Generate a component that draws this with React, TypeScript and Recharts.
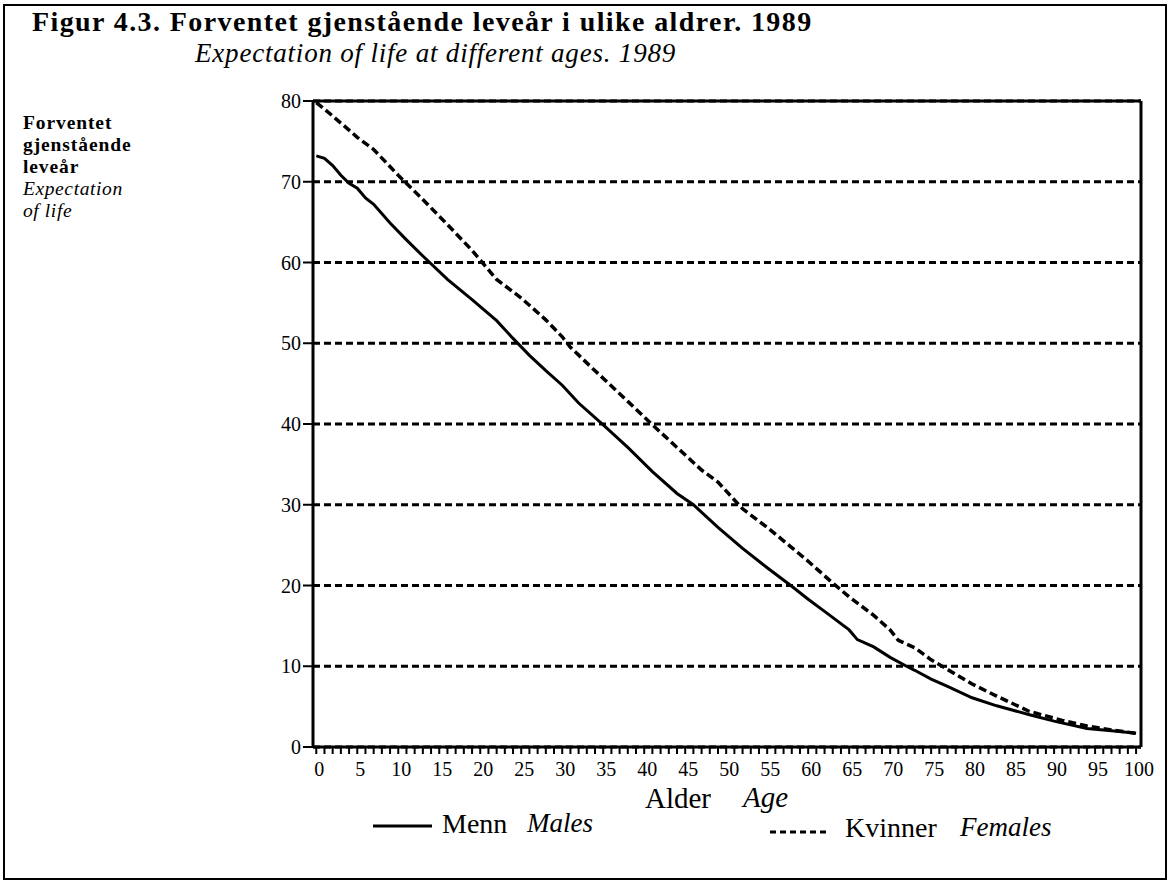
import { LineChart, Line, XAxis, YAxis, CartesianGrid, ReferenceLine } from 'recharts'

// (Figur 4.3, 1989)
const maleAges = [0, 1, 2, 3, 4, 5, 6, 7, 9, 11, 13, 16, 19, 22, 24, 26, 28, 30, 32, 35, 38, 41, 44, 46, 49, 52, 55, 58, 60, 62, 65, 66, 68, 70, 72, 73, 75, 77, 80, 83, 87, 90, 94, 97, 100]
const maleValues = [73.2, 72.9, 72.0, 70.8, 69.8, 69.2, 68.0, 67.2, 64.9, 62.8, 60.8, 57.9, 55.4, 52.8, 50.6, 48.5, 46.6, 44.8, 42.6, 39.9, 37.1, 34.1, 31.4, 30.0, 27.2, 24.6, 22.2, 19.9, 18.3, 16.8, 14.5, 13.3, 12.4, 11.1, 10.0, 9.5, 8.4, 7.5, 6.1, 5.1, 4.0, 3.2, 2.3, 2.0, 1.7]

const femaleAges = [0, 1, 4, 5, 7, 10, 13, 16, 19, 20, 22, 25, 28, 30, 31, 34, 38, 41, 44, 47, 49, 52, 55, 58, 60, 63, 65, 68, 70, 71, 73, 75, 77, 80, 83, 87, 91, 94, 97, 100]
const femaleValues = [79.8, 79.0, 76.4, 75.5, 74.0, 70.8, 67.8, 64.7, 61.5, 60.3, 57.9, 55.6, 52.9, 50.8, 49.5, 46.6, 42.8, 39.9, 37.1, 34.3, 32.8, 29.5, 27.2, 24.7, 23.0, 20.3, 18.6, 16.3, 14.5, 13.2, 12.3, 10.8, 9.6, 7.8, 6.3, 4.4, 3.3, 2.6, 2.1, 1.7]

const yTicks = [0, 10, 20, 30, 40, 50, 60, 70, 80]
const xTicks = Array.from({ length: 101 }, (_, i) => i) // one tick mark per year

const maleData = maleAges.map((age, i) => ({ age, value: maleValues[i] }))
const femaleData = femaleAges.map((age, i) => ({ age, value: femaleValues[i] }))

const SERIF = '"Liberation Serif", "Times New Roman", serif'

const txt = (left: number, top: number, size: number, extra: React.CSSProperties = {}): React.CSSProperties => ({
  position: 'absolute', left, top, fontSize: size, lineHeight: `${size}px`,
  fontFamily: SERIF, color: '#000', whiteSpace: 'nowrap', ...extra,
})

export default function App() {
  return (
    <div style={{ position: 'absolute', left: 0, top: 0, width: 1169, height: 880, background: '#fff', overflow: 'hidden' }}>
      {/* outer frame */}
      <div style={{ position: 'absolute', left: 3, top: 4, width: 1160, height: 872, border: '2px solid #000' }} />

      <LineChart
        width={1169}
        height={880}
        margin={{ top: 101, right: 28, bottom: 93, left: 0 }}
        style={{ position: 'absolute', left: 0, top: 0 }}
      >
        <CartesianGrid vertical={false} stroke="#000" strokeWidth={3} strokeDasharray="7 4" />
        <XAxis
          type="number"
          dataKey="age"
          domain={[-0.4, 100.6]}
          ticks={xTicks}
          interval={0}
          height={40}
          tickFormatter={(v: number) => (v % 5 === 0 ? String(v) : '')}
          tickSize={7}
          tickMargin={8}
          axisLine={{ stroke: '#000', strokeWidth: 3 }}
          tickLine={{ stroke: '#000', strokeWidth: 2 }}
          tick={{ fill: '#000', fontSize: 20, fontFamily: SERIF, dx: 3 }}
        />
        <YAxis
          type="number"
          domain={[0, 80]}
          ticks={yTicks}
          width={313}
          tickSize={10}
          tickMargin={2}
          axisLine={{ stroke: '#000', strokeWidth: 3 }}
          tickLine={{ stroke: '#000', strokeWidth: 2 }}
          tick={{ fill: '#000', fontSize: 20, fontFamily: SERIF }}
        />
        <ReferenceLine y={80} stroke="#000" strokeWidth={3} />
        <ReferenceLine x={100.6} stroke="#000" strokeWidth={3} />
        <Line
          data={femaleData}
          dataKey="value"
          type="linear"
          stroke="#000"
          strokeWidth={3.5}
          strokeDasharray="8 4"
          dot={false}
          isAnimationActive={false}
        />
        <Line
          data={maleData}
          dataKey="value"
          type="linear"
          stroke="#000"
          strokeWidth={3}
          dot={false}
          isAnimationActive={false}
        />
      </LineChart>

      {/* titles */}
      <div style={txt(32, 8, 28, { fontWeight: 'bold', letterSpacing: 1.4 })}>Figur 4.3. Forventet gjenstående leveår i ulike aldrer. 1989</div>
      <div style={txt(195, 40, 27, { fontStyle: 'italic', letterSpacing: 0.8 })}>Expectation of life at different ages. 1989</div>

      {/* y axis caption */}
      <div style={txt(23, 113, 19.5, { fontWeight: 'bold', letterSpacing: 0.9 })}>Forventet</div>
      <div style={txt(23, 135, 19.5, { fontWeight: 'bold', letterSpacing: 0.9 })}>gjenstående</div>
      <div style={txt(23, 157, 19.5, { fontWeight: 'bold', letterSpacing: 0.9 })}>leveår</div>
      <div style={txt(23, 179, 19.5, { fontStyle: 'italic', letterSpacing: 0.6 })}>Expectation</div>
      <div style={txt(23, 201, 19.5, { fontStyle: 'italic', letterSpacing: 0.6 })}>of life</div>

      {/* x axis caption */}
      <div style={txt(645, 784, 29)}>Alder</div>
      <div style={txt(743, 783, 29, { fontStyle: 'italic' })}>Age</div>

      {/* legend */}
      <svg style={{ position: 'absolute', left: 370, top: 820 }} width={70} height={14}>
        <line x1={3} y1={6} x2={62} y2={6} stroke="#000" strokeWidth={3} />
      </svg>
      <div style={txt(442, 810, 28)}>Menn</div>
      <div style={txt(527, 810, 27, { fontStyle: 'italic' })}>Males</div>
      <svg style={{ position: 'absolute', left: 768, top: 826 }} width={66} height={12}>
        <line x1={2} y1={6} x2={62} y2={6} stroke="#000" strokeWidth={3} strokeDasharray="6 4" />
      </svg>
      <div style={txt(845, 814, 28)}>Kvinner</div>
      <div style={txt(960, 814, 27, { fontStyle: 'italic' })}>Females</div>
    </div>
  )
}
